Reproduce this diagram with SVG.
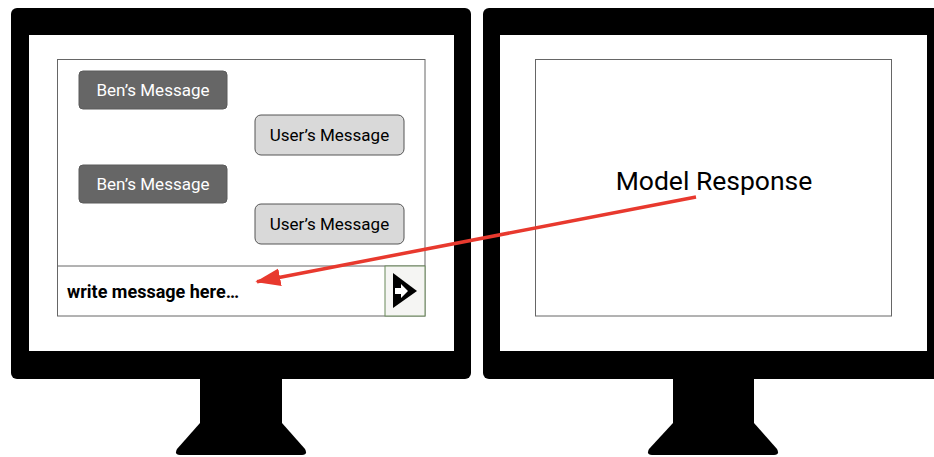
<svg xmlns="http://www.w3.org/2000/svg" width="934" height="457" viewBox="0 0 934 457">
<defs>
<style>
.frame{fill:#000}
.screen{fill:#fff}
.box{fill:#fff;stroke:#666;stroke-width:1}
.ben{fill:#666666;stroke:#5a5a5a;stroke-width:1}
.usr{fill:#d9d9d9;stroke:#555;stroke-width:1}
.t{font-family:Roboto,"Liberation Sans",sans-serif;font-size:17px;text-anchor:middle}
.tw{fill:#fff}
.tb{fill:#000}
</style>
<marker id="ah" viewBox="0 0 14 10" refX="13" refY="5" markerWidth="7.2" markerHeight="5.2" markerUnits="strokeWidth" orient="auto">
<path d="M0,0 L14,5 L0,10 Z" fill="#e8392e"/>
</marker>
</defs>
<g id="monitor-left">
<rect class="frame" x="11" y="8" width="460" height="371" rx="6"/>
<rect class="screen" x="29" y="35" width="425" height="316"/>
<rect class="frame" x="200" y="378" width="82" height="46"/>
<path class="frame" d="M200,423 L282,423 L305,449 Q308,455 302,455 L180,455 Q174,455 177,449 Z"/>
</g>
<g id="monitor-right">
<rect class="frame" x="483" y="8" width="460" height="371" rx="6"/>
<rect class="screen" x="500" y="35" width="427" height="316"/>
<rect class="frame" x="673" y="378" width="81" height="46"/>
<path class="frame" d="M673,423 L754,423 L777,449 Q780,455 774,455 L652,455 Q646,455 649,449 Z"/>
</g>
<g id="chat-window">
<rect class="box" x="57.5" y="59.5" width="367.5" height="256.5"/>
<line x1="57.5" y1="266" x2="425" y2="266" stroke="#666" stroke-width="1"/>
</g>
<g id="ben-msg-1">
<rect class="ben" x="79" y="71" width="148" height="38" rx="4"/>
<text class="t tw" x="153" y="96">Ben’s Message</text>
</g>
<g id="user-msg-1">
<rect class="usr" x="255" y="115" width="149" height="40" rx="6"/>
<text class="t tb" x="329.5" y="141">User’s Message</text>
</g>
<g id="ben-msg-2">
<rect class="ben" x="79" y="165" width="148" height="38" rx="4"/>
<text class="t tw" x="153" y="190">Ben’s Message</text>
</g>
<g id="user-msg-2">
<rect class="usr" x="255" y="204" width="149" height="40" rx="6"/>
<text class="t tb" x="329.5" y="230">User’s Message</text>
</g>
<g id="input">
<text x="67" y="298" font-family="Roboto,'Liberation Sans',sans-serif" font-size="18" font-weight="bold" fill="#000">write message here…</text>
</g>
<g id="send-button">
<rect x="385" y="266" width="40" height="50" fill="#f5f5f3" stroke="#6b8a5a" stroke-width="1"/>
<path d="M393,273 L417,291 L393,308 Z" fill="#000"/>
<path d="M395,288 L401,288 L401,284 L408,291 L401,298 L401,294 L395,294 Z" fill="#fff"/>
</g>
<g id="model-response">
<rect class="box" x="535.5" y="59.5" width="356" height="256.5"/>
<text x="714" y="190" font-family="Roboto,'Liberation Sans',sans-serif" font-size="26.5" text-anchor="middle" fill="#000">Model Response</text>
</g>
<g id="connectors">
<line x1="696" y1="197" x2="257" y2="281.7" stroke="#e8392e" stroke-width="3.5" marker-end="url(#ah)"/>
</g>
</svg>
